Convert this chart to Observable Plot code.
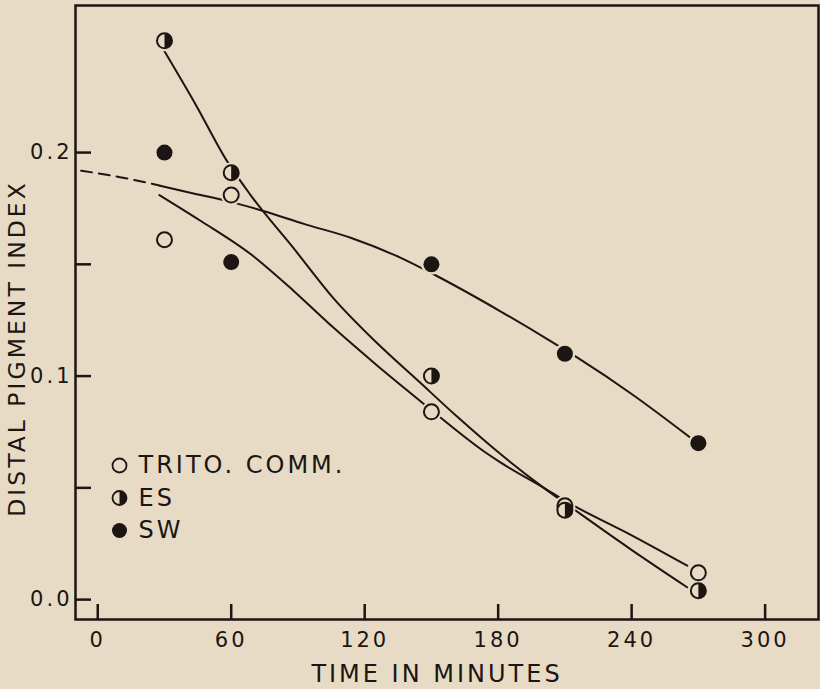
<!DOCTYPE html>
<html>
<head>
<meta charset="utf-8">
<script src="https://cdn.jsdelivr.net/npm/d3@7"></script>
<script src="https://cdn.jsdelivr.net/npm/@observablehq/plot@0.6"></script>
<style>
  html, body { margin: 0; padding: 0; background: #e7dbc5; }
  #chart { width: 820px; height: 689px; }
</style>
</head>
<body>
<div id="chart"></div>
<script>
// ---- data ----
const times = [30, 60, 150, 210, 270];
const tritoValues = [0.161, 0.181, 0.084, 0.042, 0.012];
const esValues = [0.25, 0.191, 0.100, 0.040, 0.004];
const swValues = [0.200, 0.151, 0.150, 0.110, 0.070];

// hand-drawn fitted curves
const swDashX = [-7.5, 10, 28];
const swDashY = [0.1919, 0.189, 0.1852];
const swCurveX = [28, 44, 58, 74, 93, 114, 136, 152, 181, 203, 216, 240, 267];
const swCurveY = [0.1852, 0.1815, 0.1784, 0.174, 0.168, 0.1618, 0.153, 0.145, 0.129, 0.116, 0.108, 0.092, 0.072];
const esCurveX = [29.6, 44.3, 57.9, 68.7, 88.2, 105.8, 125.3, 143.9, 161.4, 179, 200.5, 213.2, 239.6, 265];
const esCurveY = [0.246, 0.221, 0.1965, 0.181, 0.157, 0.135, 0.115, 0.098, 0.082, 0.0668, 0.050, 0.041, 0.0225, 0.0055];
const tritoCurveX = [27.7, 46.2, 68.7, 88.2, 105.8, 125.3, 144.8, 154.6, 173.2, 181, 200.5, 211.3, 239.6, 265];
const tritoCurveY = [0.181, 0.1695, 0.1546, 0.138, 0.1218, 0.105, 0.089, 0.081, 0.0666, 0.0614, 0.050, 0.0435, 0.029, 0.0152];

const xTicks = [0, 60, 120, 180, 240, 300];
const yTicks = [0, 0.05, 0.1, 0.15, 0.2];
const yLabels = [0, 0.1, 0.2];
const legendLabels = ["TRITO. COMM.", "ES", "SW"];
const xTitle = "TIME IN MINUTES";
const yTitle = "DISTAL PIGMENT INDEX";

// ---- build tables ----
const ink = "#1c1512";
const bg = "#e7dbc5";
const pts = (vals) => times.map((t, i) => ({x: t, y: vals[i]}));
const curve = (xs, ys) => xs.map((x, i) => ({x, y: ys[i]}));
const trito = pts(tritoValues), es = pts(esValues), sw = pts(swValues);
const allPts = [...trito, ...es, ...sw];

const halfRight = {
  draw(context, size) {
    const r = Math.sqrt(size / Math.PI);
    context.moveTo(0, -r);
    context.arc(0, 0, r, -Math.PI / 2, Math.PI / 2);
    context.closePath();
  }
};

const lineOpts = {x: "x", y: "y", stroke: ink, strokeWidth: 2, curve: "monotone-x"};

const marks = [
  Plot.frame({stroke: ink, strokeWidth: 2.5}),
  Plot.line(curve(swDashX, swDashY), {...lineOpts, strokeDasharray: "11,7"}),
  Plot.line(curve(swCurveX, swCurveY), lineOpts),
  Plot.line(curve(esCurveX, esCurveY), lineOpts),
  Plot.line(curve(tritoCurveX, tritoCurveY), lineOpts),
  // halos that open small gaps in the lines around the markers
  Plot.dot(allPts, {x: "x", y: "y", r: 8, fill: bg, stroke: bg, strokeWidth: 5}),
  Plot.dot(trito, {x: "x", y: "y", r: 7.5, fill: bg, stroke: ink, strokeWidth: 2}),
  Plot.dot(es, {x: "x", y: "y", r: 7.5, fill: bg, stroke: ink, strokeWidth: 2}),
  Plot.dot(es, {x: "x", y: "y", r: 7.5, symbol: halfRight, fill: ink}),
  Plot.dot(sw, {x: "x", y: "y", r: 8, fill: ink}),
  // axes: inward ticks
  Plot.axisX(xTicks, {tickSize: -15, tickFormat: () => "", stroke: ink, strokeWidth: 2.5, label: null}),
  Plot.axisX(xTicks, {tickSize: 0, tickPadding: 13, fontSize: 21, fill: ink, tickFormat: (d) => String(d), label: null}),
  Plot.axisY(yTicks, {tickSize: -16, tickFormat: () => "", stroke: ink, strokeWidth: 2.5, label: null}),
  Plot.axisY(yLabels, {tickSize: 0, tickPadding: 3, fontSize: 21, fill: ink, tickFormat: d3.format(".1f"), label: null}),
  // axis titles
  Plot.text([xTitle], {frameAnchor: "bottom", textAnchor: "middle", lineAnchor: "middle", dx: -10, dy: 55, fontSize: 24, fill: ink}),
  Plot.text([yTitle], {frameAnchor: "left", textAnchor: "middle", lineAnchor: "middle", rotate: -90, dx: -58, dy: 36, fontSize: 23.5, fill: ink})
];

// legend inside the frame
const legendKinds = ["open", "half", "filled"];
legendLabels.forEach((label, i) => {
  const dy = 460 + i * 32.5;
  const kind = legendKinds[i];
  if (kind === "open") {
    marks.push(Plot.dot([label], {frameAnchor: "top-left", dx: 44, dy, r: 7, fill: bg, stroke: ink, strokeWidth: 1.8}));
  } else if (kind === "half") {
    marks.push(Plot.dot([label], {frameAnchor: "top-left", dx: 44, dy, r: 7, fill: bg, stroke: ink, strokeWidth: 1.8}));
    marks.push(Plot.dot([label], {frameAnchor: "top-left", dx: 44, dy, r: 7, symbol: halfRight, fill: ink}));
  } else {
    marks.push(Plot.dot([label], {frameAnchor: "top-left", dx: 44, dy, r: 7.5, fill: ink}));
  }
  marks.push(Plot.text([label], {frameAnchor: "top-left", textAnchor: "start", lineAnchor: "middle", dx: 63, dy, fontSize: 24, fill: ink}));
});

const chart = Plot.plot({
  width: 820,
  height: 689,
  marginLeft: 75,
  marginRight: 2,
  marginTop: 5,
  marginBottom: 70,
  x: {domain: [-10, 324], axis: null},
  y: {domain: [-0.0089, 0.2658], axis: null},
  style: {background: bg, color: ink, fontFamily: "'DejaVu Sans', sans-serif", letterSpacing: "3px"},
  marks
});
document.getElementById("chart").appendChild(chart);
</script>
</body>
</html>
